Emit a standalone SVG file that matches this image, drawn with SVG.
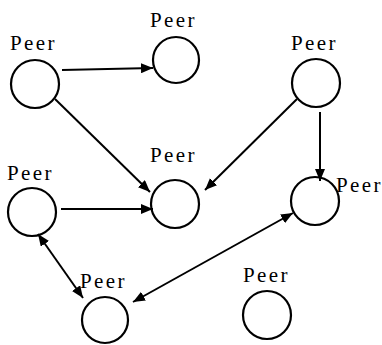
<svg xmlns="http://www.w3.org/2000/svg" width="382" height="345" viewBox="0 0 382 345">
<style>
.n{fill:none;stroke:#000;stroke-width:2.2}
.t{font-family:"Liberation Serif","Times New Roman",serif;font-size:21px;letter-spacing:2.4px;fill:#000}
.e{stroke:#000;stroke-width:2;fill:none}
</style>
<defs>
<marker id="ah" viewBox="0 0 12 10" refX="12" refY="5" markerWidth="12" markerHeight="10" markerUnits="userSpaceOnUse" orient="auto-start-reverse">
<path d="M0,0 L12,5 L0,10 Z" fill="#000"/>
</marker>
</defs>
<rect width="382" height="345" fill="#fff"/>
<g id="edges">
<line class="e" x1="62" y1="70" x2="153" y2="68" marker-end="url(#ah)"/>
<line class="e" x1="55" y1="99" x2="150" y2="192" marker-end="url(#ah)"/>
<line class="e" x1="297" y1="99" x2="205" y2="190" marker-end="url(#ah)"/>
<line class="e" x1="320" y1="112" x2="320" y2="181" marker-end="url(#ah)"/>
<line class="e" x1="61" y1="209" x2="153" y2="209" marker-end="url(#ah)"/>
<line class="e" x1="38" y1="234" x2="83" y2="298" marker-start="url(#ah)" marker-end="url(#ah)"/>
<line class="e" x1="133" y1="302" x2="293" y2="213" marker-start="url(#ah)" marker-end="url(#ah)"/>
</g>
<g id="peer1"><circle class="n" cx="35" cy="84" r="24"/><text class="t" x="10" y="50">Peer</text></g>
<g id="peer2"><circle class="n" cx="176" cy="60" r="23"/><text class="t" x="150" y="27">Peer</text></g>
<g id="peer3"><circle class="n" cx="316" cy="83" r="24"/><text class="t" x="291" y="50">Peer</text></g>
<g id="peer4"><circle class="n" cx="175" cy="204" r="24"/><text class="t" x="150" y="162">Peer</text></g>
<g id="peer5"><circle class="n" cx="32" cy="212" r="24"/><text class="t" x="7" y="180">Peer</text></g>
<g id="peer6"><circle class="n" cx="315" cy="201" r="24"/><text class="t" x="336" y="192">Peer</text></g>
<g id="peer7"><circle class="n" cx="105" cy="320" r="23"/><text class="t" x="80" y="288">Peer</text></g>
<g id="peer8"><circle class="n" cx="267" cy="315" r="24"/><text class="t" x="243" y="282">Peer</text></g>
</svg>
